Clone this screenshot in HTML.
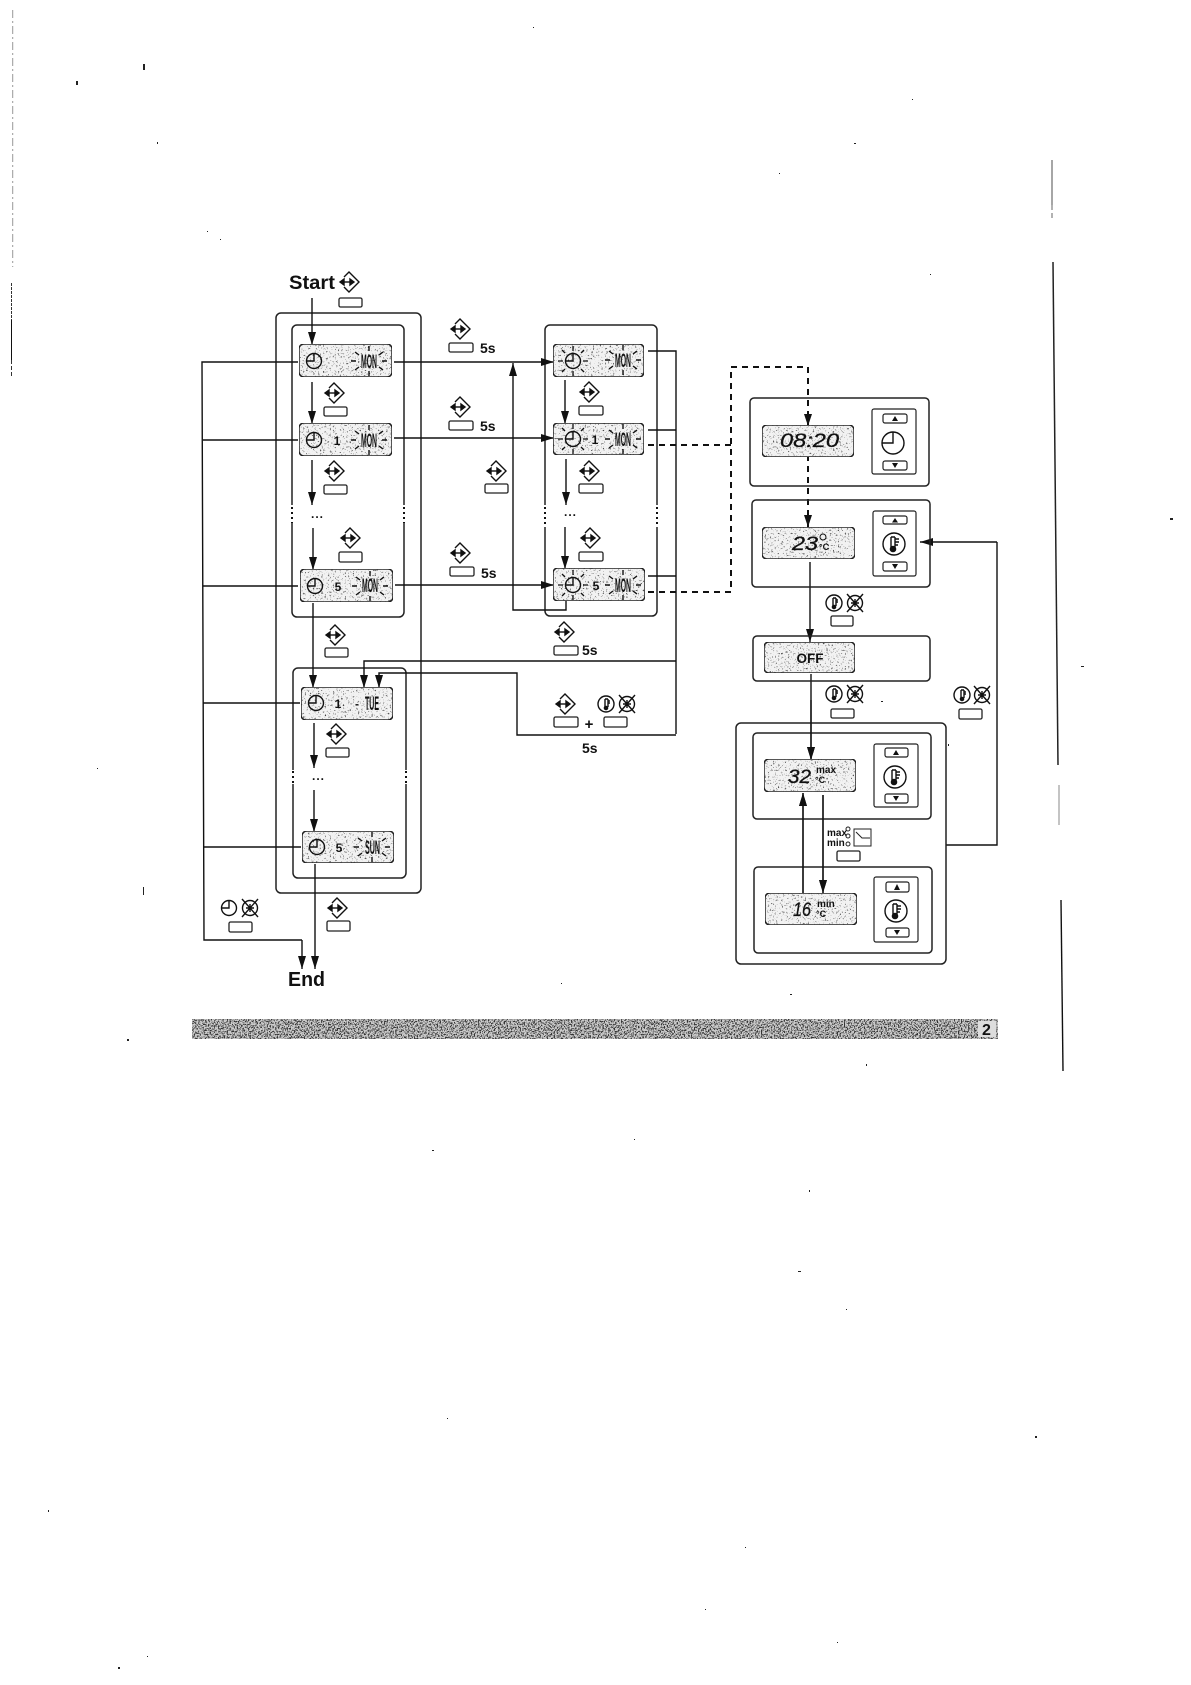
<!DOCTYPE html>
<html><head><meta charset="utf-8"><style>
html,body{margin:0;padding:0;background:#fff;width:1191px;height:1685px;overflow:hidden}
svg{display:block}
text{font-family:"Liberation Sans",sans-serif;fill:#111}
.b{font-weight:bold}
.p{fill:none;stroke:#222;stroke-width:1.5}
.l{fill:none;stroke:#111;stroke-width:1.4}
.a{fill:none;stroke:#111;stroke-width:1.4;marker-end:url(#ah)}
.d{fill:none;stroke:#111;stroke-width:2;stroke-dasharray:6 5}
.btn{fill:#fff;stroke:#222;stroke-width:1.3}
.lcd{fill:#f2f2f2;stroke:#222;stroke-width:1.5;filter:url(#sp)}
.ic{fill:none;stroke:#111;stroke-width:1.4}
</style></head><body>
<svg xmlns="http://www.w3.org/2000/svg" width="1191" height="1685" viewBox="0 0 1191 1685">
<defs>
<marker id="ah" markerUnits="userSpaceOnUse" markerWidth="14" markerHeight="10" refX="13" refY="4" orient="auto"><path d="M0,0 L13,4 L0,8Z" fill="#111"/></marker>
<filter id="sp" x="0" y="0" width="1" height="1" color-interpolation-filters="sRGB">
<feTurbulence type="fractalNoise" baseFrequency="0.6" numOctaves="2" seed="4"/>
<feColorMatrix values="0 0 0 0 .25 0 0 0 0 .25 0 0 0 0 .25 6 0 0 0 -3.65"/>
<feComposite in2="SourceAlpha" operator="in" result="n"/>
<feMerge><feMergeNode in="SourceGraphic"/><feMergeNode in="n"/></feMerge>
</filter>
<filter id="bd" x="0" y="0" width="1" height="1" color-interpolation-filters="sRGB">
<feTurbulence type="fractalNoise" baseFrequency="0.7" numOctaves="2" seed="9"/>
<feColorMatrix values="0 0 0 0 .2 0 0 0 0 .2 0 0 0 0 .2 8 0 0 0 -3.9"/>
<feComposite in2="SourceAlpha" operator="in" result="n"/>
<feMerge><feMergeNode in="SourceGraphic"/><feMergeNode in="n"/></feMerge>
</filter>
<g id="key" class="ic"><path d="M-5,-5 L0,-10 L10,0 L0,10 L-5,5"/><path d="M-8,0 H4"/><path d="M-5,-3 L-9,0 L-5,3Z M1,-3 L5,0 L1,3Z" fill="#111"/></g>
<g id="clk" class="ic"><circle r="7.5"/><path d="M0,-7.5 V0 H-7.5" /></g>
<g id="xi" class="ic"><circle r="7.5"/><path d="M-8,-9 L8,9 M8,-9 L-8,9 M0,-4 V4 M-4,0 H4"/></g>
<g id="th" class="ic"><circle r="8"/><path d="M-1,-5 V3 M2,-5 V3 M-1,-5 H2 M2,-3 H4 M2,-1 H4"/><circle cy="4" r="1.6" fill="#111"/></g>
<g id="thb" class="ic"><circle r="11"/><path d="M-3,-7 V3 M1,-7 V3 M-3,-7 H1 M1,-5 H5 M1,-2 H5 M1,1 H4"/><circle cx="-1" cy="5" r="2.6" fill="#111"/></g>
<g id="r" stroke="#111" stroke-width="1.4" fill="none"><path d="M0,-15 V-10 M0,15 V10 M-14,-9 L-10,-6 M14,-9 L10,-6 M-14,9 L-10,6 M14,9 L10,6 M-18,0 H-13 M18,0 H13"/></g>
<g id="rc" stroke="#111" stroke-width="1.3" fill="none"><path d="M0,-15 V-10 M0,15 V10 M-11,-11 L-8,-8 M11,-11 L8,-8 M-11,11 L-8,8 M11,11 L8,8 M-15,0 H-10 M15,0 H10"/></g>
</defs>
<rect width="1191" height="1685" fill="#fff"/>

<!-- margin marks -->
<path d="M12.7,10 V267" stroke="#999" stroke-width="1" stroke-dasharray="8 3 2 3"/>
<path d="M11.5,283 V345" stroke="#333" stroke-width="1" stroke-dasharray="3 1"/>
<path d="M11.5,320 V360" stroke="#111" stroke-width="1"/>
<path d="M11.5,360 V377" stroke="#333" stroke-width="1" stroke-dasharray="4 2"/>
<path d="M1052,160 V205" stroke="#777" stroke-width="1.3"/>
<path d="M1052,205 V220" stroke="#888" stroke-width="1.3" stroke-dasharray="5 3"/>
<path d="M1053,262 L1058,765" stroke="#222" stroke-width="1.5"/>
<path d="M1059,785 V825" stroke="#888" stroke-width="1"/>
<path d="M1061,900 L1063,1071" stroke="#111" stroke-width="1.4"/>
<g fill="#222">
<rect x="143" y="64" width="2" height="6"/><rect x="76" y="81" width="2" height="4"/><rect x="157" y="142" width="1" height="2"/>
<rect x="220" y="239" width="1" height="1"/><rect x="207" y="231" width="1" height="1"/><rect x="533" y="27" width="1" height="1"/>
<rect x="912" y="99" width="1" height="1"/><rect x="854" y="143" width="2" height="1"/><rect x="779" y="173" width="1" height="1"/>
<rect x="930" y="274" width="1" height="1"/><rect x="1170" y="518" width="3" height="2"/><rect x="1081" y="666" width="3" height="1"/>
<rect x="948" y="744" width="1" height="2"/><rect x="881" y="701" width="2" height="1"/><rect x="97" y="768" width="1" height="1"/>
<rect x="143" y="887" width="1" height="8"/><rect x="127" y="1039" width="2" height="2"/><rect x="866" y="1064" width="1" height="2"/>
<rect x="634" y="1139" width="1" height="1"/><rect x="432" y="1150" width="2" height="1"/><rect x="809" y="1190" width="1" height="2"/>
<rect x="798" y="1271" width="3" height="1"/><rect x="846" y="1309" width="1" height="1"/><rect x="447" y="1418" width="1" height="1"/>
<rect x="1035" y="1436" width="2" height="2"/><rect x="48" y="1510" width="1" height="2"/><rect x="745" y="1547" width="1" height="1"/>
<rect x="705" y="1609" width="1" height="1"/><rect x="837" y="1642" width="1" height="1"/><rect x="118" y="1667" width="2" height="2"/>
<rect x="147" y="1656" width="1" height="1"/><rect x="790" y="994" width="2" height="1"/><rect x="561" y="983" width="1" height="1"/>
</g>

<!-- boxes col1 -->
<rect class="p" x="276" y="313" width="145" height="580" rx="5"/>
<rect class="p" x="292" y="325" width="112" height="292" rx="5"/>
<rect class="p" x="293" y="668" width="113" height="210" rx="5"/>
<!-- col2 box -->
<rect class="p" x="545" y="325" width="112" height="291" rx="5"/>
<g fill="#fff" stroke="none">
<rect x="290" y="505" width="4" height="18"/><rect x="402" y="505" width="4" height="18"/>
<rect x="291" y="770" width="4" height="14"/><rect x="404" y="770" width="4" height="14"/>
<rect x="543" y="505" width="4" height="22"/><rect x="655" y="505" width="4" height="22"/>
</g>
<g stroke="#111" stroke-width="2" stroke-dasharray="2 3" fill="none">
<path d="M292,507 V523"/><path d="M404,507 V523"/><path d="M293,771 V785"/><path d="M406,771 V785"/><path d="M545,507 V527"/><path d="M657,507 V527"/>
</g>

<!-- connectors -->
<path class="l" d="M298,362 H202 L204,940 H302"/>
<path class="l" d="M298,440 H203"/><path class="l" d="M298,586 H203"/><path class="l" d="M300,703 H203"/><path class="l" d="M301,847 H204"/>
<path class="a" d="M302,940 V969"/>
<path class="a" d="M315,864 V969"/>
<path class="a" d="M312,298 V345"/><path class="a" d="M312,382 V424"/><path class="a" d="M312,460 V505"/><path class="a" d="M313,528 V570"/>
<path class="a" d="M313,603 V688"/><path class="a" d="M314,723 V768"/><path class="a" d="M314,790 V832"/>
<path class="a" d="M394,362 H554"/><path class="a" d="M394,438 H554"/><path class="a" d="M395,585 H554"/>
<path class="a" d="M566,601 V610 H513 V363"/>
<path class="a" d="M565,380 V424"/><path class="a" d="M566,459 V505"/><path class="a" d="M565,527 V569"/>
<path class="l" d="M648,351 H676 V734"/><path class="l" d="M648,430 H676"/><path class="l" d="M648,576 H676"/>
<path class="a" d="M676,661 H364 V688"/>
<path class="a" d="M676,735 H517 V673 H379 V688"/>
<path class="d" d="M648,445 H731"/><path class="d" d="M648,592 H731 V367 H808 V527"/>
<path d="M808,426 L804,414 H812Z" fill="#111"/>
<path d="M808,527 L804,515 H812Z" fill="#111"/>
<path class="a" d="M810,562 V642"/><path class="a" d="M811,674 V760"/>
<path class="a" d="M803,893 V793"/><path class="a" d="M823,795 V893"/>
<path class="l" d="M946,845 H997 V542"/><path class="a" d="M997,542 H920"/>

<!-- Start/End -->
<text class="b" x="289" y="289" font-size="19" textLength="46" lengthAdjust="spacingAndGlyphs">Start</text>
<text class="b" x="288" y="986" font-size="20" textLength="37" lengthAdjust="spacingAndGlyphs">End</text>

<!-- key icons -->
<use href="#key" x="349" y="282"/><use href="#key" x="460" y="329"/><use href="#key" x="334" y="393"/><use href="#key" x="460" y="407"/>
<use href="#key" x="334" y="471"/><use href="#key" x="496" y="471"/><use href="#key" x="350" y="538"/><use href="#key" x="460" y="553"/>
<use href="#key" x="335" y="635"/><use href="#key" x="336" y="734"/><use href="#key" x="337" y="908"/>
<use href="#key" x="589" y="392"/><use href="#key" x="589" y="471"/><use href="#key" x="590" y="538"/><use href="#key" x="564" y="632"/><use href="#key" x="565" y="704"/>
<use href="#clk" x="229" y="908"/><use href="#xi" x="250" y="908"/>
<use href="#th" x="606" y="704"/><use href="#xi" x="627" y="704"/>
<use href="#th" x="834" y="603"/><use href="#xi" x="855" y="603"/>
<use href="#th" x="834" y="694"/><use href="#xi" x="855" y="694"/>
<use href="#th" x="962" y="695"/><use href="#xi" x="982" y="695"/>

<!-- buttons -->
<g class="btn">
<rect x="339" y="298" width="23" height="9" rx="1.5"/><rect x="449" y="343" width="24" height="9" rx="1.5"/><rect x="324" y="407" width="23" height="9" rx="1.5"/>
<rect x="449" y="421" width="24" height="9" rx="1.5"/><rect x="324" y="485" width="23" height="9" rx="1.5"/><rect x="485" y="484" width="23" height="9" rx="1.5"/>
<rect x="339" y="552" width="23" height="10" rx="1.5"/><rect x="450" y="567" width="24" height="9" rx="1.5"/><rect x="325" y="648" width="23" height="9" rx="1.5"/>
<rect x="326" y="748" width="23" height="9" rx="1.5"/><rect x="327" y="921" width="23" height="10" rx="1.5"/><rect x="229" y="922" width="23" height="10" rx="1.5"/>
<rect x="579" y="406" width="24" height="9" rx="1.5"/><rect x="579" y="484" width="24" height="9" rx="1.5"/><rect x="579" y="552" width="24" height="9" rx="1.5"/>
<rect x="554" y="646" width="24" height="9" rx="1.5"/><rect x="554" y="717" width="24" height="10" rx="1.5"/><rect x="604" y="717" width="23" height="10" rx="1.5"/>
<rect x="831" y="616" width="22" height="10" rx="1.5"/><rect x="831" y="709" width="23" height="9" rx="1.5"/><rect x="959" y="709" width="23" height="10" rx="1.5"/>
<rect x="837" y="851" width="23" height="10" rx="1.5"/>
</g>
<g class="b" font-size="14">
<text x="480" y="353">5s</text><text x="480" y="431">5s</text><text x="481" y="578">5s</text><text x="582" y="655">5s</text><text x="582" y="753">5s</text>
</g>
<text class="b" x="589" y="729" font-size="15" text-anchor="middle">+</text>

<!-- dots -->
<g class="b" font-size="12"><text x="311" y="518" letter-spacing="1">...</text><text x="312" y="780" letter-spacing="1">...</text><text x="564" y="516" letter-spacing="1">...</text></g>

<!-- col1 LCDs -->
<rect class="lcd" x="299" y="344" width="93" height="33" rx="5"/>
<rect class="lcd" x="299" y="423" width="93" height="33" rx="5"/>
<rect class="lcd" x="300" y="569" width="93" height="33" rx="5"/>
<rect class="lcd" x="301" y="687" width="92" height="33" rx="5"/>
<rect class="lcd" x="302" y="831" width="92" height="32" rx="5"/>
<use href="#clk" x="314" y="361"/><use href="#clk" x="314" y="440"/><use href="#clk" x="315" y="586"/><use href="#clk" x="316" y="703"/><use href="#clk" x="317" y="847"/>
<g class="b" font-size="19">
<text x="361" y="368" textLength="16" lengthAdjust="spacingAndGlyphs">MON</text>
<text x="361" y="447" textLength="16" lengthAdjust="spacingAndGlyphs">MON</text>
<text x="362" y="592" textLength="16" lengthAdjust="spacingAndGlyphs">MON</text>
<text x="365" y="710" textLength="14" lengthAdjust="spacingAndGlyphs">TUE</text>
<text x="365" y="854" textLength="15" lengthAdjust="spacingAndGlyphs">SUN</text>
</g>
<g class="b" font-size="12">
<text x="337" y="445" text-anchor="middle">1</text><text x="338" y="591" text-anchor="middle">5</text><text x="338" y="708" text-anchor="middle">1</text><text x="339" y="852" text-anchor="middle">5</text>
<text x="355" y="708">-</text>
</g>
<use href="#r" x="369" y="361"/><use href="#r" x="369" y="440"/><use href="#r" x="370" y="586"/><use href="#r" x="372" y="847"/>

<!-- col2 LCDs -->
<rect class="lcd" x="553" y="344" width="91" height="33" rx="5"/>
<rect class="lcd" x="553" y="423" width="91" height="32" rx="5"/>
<rect class="lcd" x="553" y="568" width="92" height="33" rx="5"/>
<use href="#clk" x="573" y="361"/><use href="#clk" x="573" y="439"/><use href="#clk" x="573" y="585"/>
<use href="#rc" x="573" y="361"/><use href="#rc" x="573" y="439"/><use href="#rc" x="573" y="585"/>
<g class="b" font-size="19">
<text x="615" y="367" textLength="16" lengthAdjust="spacingAndGlyphs">MON</text>
<text x="615" y="446" textLength="16" lengthAdjust="spacingAndGlyphs">MON</text>
<text x="615" y="592" textLength="16" lengthAdjust="spacingAndGlyphs">MON</text>
</g>
<g class="b" font-size="12"><text x="595" y="444" text-anchor="middle">1</text><text x="596" y="590" text-anchor="middle">5</text></g>
<use href="#r" x="623" y="360"/><use href="#r" x="623" y="439"/><use href="#r" x="623" y="585"/>

<!-- right panels -->
<rect class="p" x="750" y="398" width="179" height="88" rx="4"/>
<rect class="p" x="752" y="500" width="178" height="87" rx="4"/>
<rect class="p" x="753" y="636" width="177" height="45" rx="4"/>
<rect class="p" x="736" y="723" width="210" height="241" rx="5" fill="#fff"/>
<rect class="p" x="753" y="733" width="178" height="86" rx="4"/>
<rect class="p" x="754" y="867" width="178" height="86" rx="4"/>
<path class="a" d="M811,700 V760"/><path class="a" d="M803,893 V793"/><path class="a" d="M823,795 V893"/>

<rect class="lcd" x="762" y="425" width="92" height="32" rx="5"/>
<rect class="lcd" x="762" y="527" width="93" height="32" rx="5"/>
<rect class="lcd" x="764" y="642" width="91" height="31" rx="5"/>
<rect class="lcd" x="764" y="759" width="92" height="33" rx="5"/>
<rect class="lcd" x="765" y="893" width="92" height="32" rx="5"/>

<g font-size="19" font-style="italic" stroke="#111" stroke-width=".3">
<text x="780" y="447" textLength="59" lengthAdjust="spacingAndGlyphs">08:20</text>
<text x="792" y="550" textLength="26" lengthAdjust="spacingAndGlyphs">23</text>
<text x="788" y="783" textLength="23" lengthAdjust="spacingAndGlyphs">32</text>
<text x="793" y="916" textLength="18" lengthAdjust="spacingAndGlyphs">16</text>
</g>
<text class="b" x="810" y="663" font-size="14" text-anchor="middle" textLength="27" lengthAdjust="spacingAndGlyphs">OFF</text>
<g font-size="9" class="b">
<text x="819" y="550">°C</text><text x="816" y="773" font-size="10">max</text><text x="815" y="783">°C</text>
<text x="817" y="907" font-size="10">min</text><text x="816" y="917">°C</text>
</g>
<circle cx="823" cy="537" r="3" fill="none" stroke="#111"/>

<!-- control boxes -->
<g fill="none" stroke="#222" stroke-width="1.2">
<rect x="872" y="409" width="44" height="65" rx="2"/><rect x="873" y="511" width="43" height="65" rx="2"/>
<rect x="874" y="744" width="44" height="63" rx="2"/><rect x="874" y="877" width="44" height="65" rx="2"/>
<rect x="883" y="414" width="24" height="9" rx="2"/><rect x="883" y="461" width="24" height="9" rx="2"/>
<rect x="883" y="516" width="24" height="8" rx="2"/><rect x="883" y="562" width="24" height="9" rx="2"/>
<rect x="885" y="748" width="23" height="9" rx="2"/><rect x="885" y="794" width="23" height="9" rx="2"/>
<rect x="886" y="882" width="23" height="10" rx="2"/><rect x="886" y="928" width="23" height="9" rx="2"/>
</g>
<g fill="#111">
<path d="M895,416 l-3,5 h6Z M895,468 l-3,-5 h6Z M895,518 l-3,4.5 h6Z M895,569 l-3,-5 h6Z M896,750 l-3,5 h6Z M896,801 l-3,-5 h6Z M897,884 l-3,6 h6Z M897,935 l-3,-5 h6Z"/>
</g>
<circle cx="893" cy="443" r="11" class="ic"/><path d="M893,432 V443 H882" class="ic"/>
<use href="#thb" x="894" y="544"/><use href="#thb" x="895" y="777"/><use href="#thb" x="896" y="911"/>

<!-- max/min -->
<g class="b" font-size="10"><text x="827" y="836">max</text><text x="827" y="846">min</text></g>
<g fill="none" stroke="#222" stroke-width="1"><circle cx="848" cy="829" r="2"/><circle cx="848" cy="836" r="2"/><circle cx="848" cy="844" r="2"/></g>
<rect x="854" y="829" width="17" height="17" fill="none" stroke="#222"/><path d="M856,832 L862,838 H870" fill="none" stroke="#222"/>

<!-- band -->
<rect x="192" y="1019" width="806" height="20" fill="#ccc" filter="url(#bd)"/>
<rect x="978" y="1021" width="18" height="16" fill="#ddd"/>
<text class="b" x="982" y="1035" font-size="16">2</text>
</svg>
</body></html>
